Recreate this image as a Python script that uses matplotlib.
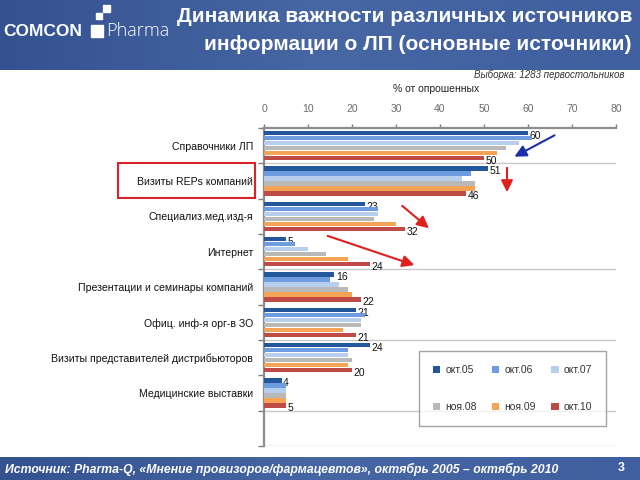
import numpy as np
import matplotlib
matplotlib.use("Agg")
import matplotlib.pyplot as plt
from matplotlib.patches import Rectangle

plt.rcParams["font.family"] = ["Liberation Sans", "DejaVu Sans"]

categories = [
    "Справочники ЛП",
    "Визиты REPs компаний",
    "Специализ.мед.изд-я",
    "Интернет",
    "Презентации и семинары компаний",
    "Офиц. инф-я орг-в ЗО",
    "Визиты представителей дистрибьюторов",
    "Медицинские выставки",
]
periods = ["окт.05", "окт.06", "окт.07", "ноя.08", "ноя.09", "окт.10"]

okt05 = [60, 51, 23, 5, 16, 21, 24, 4]
okt06 = [61, 47, 26, 7, 15, 23, 19, 5]
okt07 = [58, 45, 26, 10, 17, 22, 19, 5]
noy08 = [55, 48, 25, 14, 19, 22, 20, 5]
noy09 = [53, 48, 30, 19, 20, 18, 19, 5]
okt10 = [50, 46, 32, 24, 22, 21, 20, 5]

x_ticks = [0, 10, 20, 30, 40, 50, 60, 70, 80]

COLORS = ["#23579c", "#6d9de0", "#b7cfec", "#b9b9b9", "#f5a455", "#bf4b47"]

W, H = 640, 480


def fx(px):
    return px / W


def fy(py):
    return 1 - py / H


def draw_header(fig):
    cmap = matplotlib.colors.LinearSegmentedColormap.from_list(
        "hdr", ["#34528f", "#4666a4", "#3f5f9e"])
    grad = np.linspace(0, 1, 256).reshape(1, -1)

    band = fig.add_axes([0, fy(70), 1, 70 / H])
    band.imshow(grad, aspect="auto", cmap=cmap, extent=[0, 1, 0, 1])
    band.axis("off")

    foot = fig.add_axes([0, 0, 1, 23 / H])
    foot.imshow(grad, aspect="auto", cmap=cmap, extent=[0, 1, 0, 1])
    foot.axis("off")

    fig.text(fx(632), fy(17), "Динамика важности различных источников",
             ha="right", va="center", color="white", fontsize=15, fontweight="bold")
    fig.text(fx(632), fy(45), "информации о ЛП (основные источники)",
             ha="right", va="center", color="white", fontsize=15, fontweight="bold")

    # logo
    fig.text(fx(3), fy(31), "COMCON", ha="left", va="center", color="white",
             fontsize=12.5, fontweight="bold", family=["Liberation Sans Narrow", "Liberation Sans"])
    for (x0, y0, s) in [(91, 37, 12), (103, 12, 7), (96, 19, 6)]:
        fig.patches.append(Rectangle((fx(x0), fy(y0)), s / W, s / H,
                                     transform=fig.transFigure, color="white"))
    fig.text(fx(106), fy(31), "Pharma", ha="left", va="center", color="white",
             fontsize=13, fontweight="light", family=["Open Sans", "DejaVu Sans"])

    fig.text(fx(5), fy(469), "Источник: Pharma-Q, «Мнение провизоров/фармацевтов», октябрь 2005 – октябрь 2010",
             ha="left", va="center", color="white", fontsize=8.8, fontweight="bold", style="italic")
    fig.text(fx(621), fy(468), "3", ha="center", va="center", color="white",
             fontsize=9, fontweight="bold")


def create_plot():
    fig = plt.figure(figsize=(6.4, 4.8), dpi=100)
    draw_header(fig)

    ax = fig.add_axes([fx(264), fy(446), (616 - 264) / W, (446 - 128) / H])
    series = [okt05, okt06, okt07, noy08, noy09, okt10]
    n_slots = len(categories) + 1
    step = 0.142
    y_base = np.arange(len(categories)) + 0.5

    handles = []
    for j, (vals, color) in enumerate(zip(series, COLORS)):
        y = y_base + (j - 2.5) * step
        b = ax.barh(y, vals, height=0.12, color=color, zorder=3, label=periods[j])
        handles.append(b)
        if j in (0, 5):
            for yy, v in zip(y, vals):
                ax.annotate(str(v), (v, yy), xytext=(1, -2), textcoords="offset points",
                            ha="left", va="center", fontsize=7.5, color="#111111")

    ax.set_ylim(n_slots, 0)
    ax.set_xlim(0, 80)
    ax.xaxis.tick_top()
    ax.set_xticks(x_ticks)
    ax.set_xticklabels([str(t) for t in x_ticks])
    ax.tick_params(axis="x", colors="#7f7f7f", labelcolor="#6b6b6b", labelsize=7.5,
                   length=3, width=1, pad=7)
    ax.set_yticks(np.arange(n_slots + 1))
    ax.set_yticklabels([])
    ax.set_yticks(y_base, minor=True)
    ax.set_yticklabels(categories, minor=True, fontsize=7.6, color="#111111")
    ax.tick_params(axis="y", which="major", colors="#7f7f7f", length=4, width=1)
    ax.tick_params(axis="y", which="minor", length=0, pad=8)
    for s in ("right", "bottom"):
        ax.spines[s].set_visible(False)
    ax.spines["top"].set_color("#8c8c8c")
    ax.spines["top"].set_linewidth(1.6)
    ax.spines["left"].set_color("#8c8c8c")
    ax.spines["left"].set_linewidth(1.6)
    for b in [1, 4, 6, 8, 9]:
        ax.axhline(b, color="#c8c8c8", lw=1, zorder=1)

    fig.text(fx(625), fy(75), "Выборка: 1283 первостольников", ha="right", va="center",
             fontsize=7, style="italic", color="#333333")
    fig.text(fx(436), fy(89), "% от опрошенных", ha="center", va="center",
             fontsize=7.5, color="#222222")

    # highlight box around category label
    fig.patches.append(Rectangle((fx(118), fy(198)), (255 - 118) / W, (198 - 163) / H,
                                 transform=fig.transFigure, fill=False,
                                 edgecolor="#d8232a", lw=1.5))

    # arrows
    arrows = [
        ((557, 134), (512, 158), "#1c2fa6"),
        ((507, 165), (507, 195), "#e0201e"),
        ((400, 204), (431, 230), "#e0201e"),
        ((325, 235), (417, 266), "#e0201e"),
    ]
    for (x0, y0), (x1, y1), c in arrows:
        fig.patches.append(matplotlib.patches.FancyArrowPatch(
            (fx(x0), fy(y0)), (fx(x1), fy(y1)), transform=fig.transFigure,
            arrowstyle="-|>,head_length=7,head_width=3.5", color=c, lw=1.5,
            mutation_scale=1))

    order = [0, 3, 1, 4, 2, 5]
    leg = fig.legend([handles[i] for i in order], [periods[i] for i in order],
                     loc="center", ncol=3, mode="expand",
                     bbox_to_anchor=(fx(414), fy(425), 197 / W, 73 / H),
                     fontsize=7.5, handlelength=0.7, handleheight=0.7,
                     labelspacing=2.6, columnspacing=1.0, handletextpad=0.5,
                     frameon=True, fancybox=False, borderpad=1.3)
    leg.get_frame().set_edgecolor("#8c8c8c")
    leg.get_frame().set_linewidth(1)
    for t in leg.get_texts():
        t.set_color("#333333")

    return fig


def main():
    fig = create_plot()
    fig.savefig("out.png", dpi=100)


if __name__ == "__main__":
    main()
